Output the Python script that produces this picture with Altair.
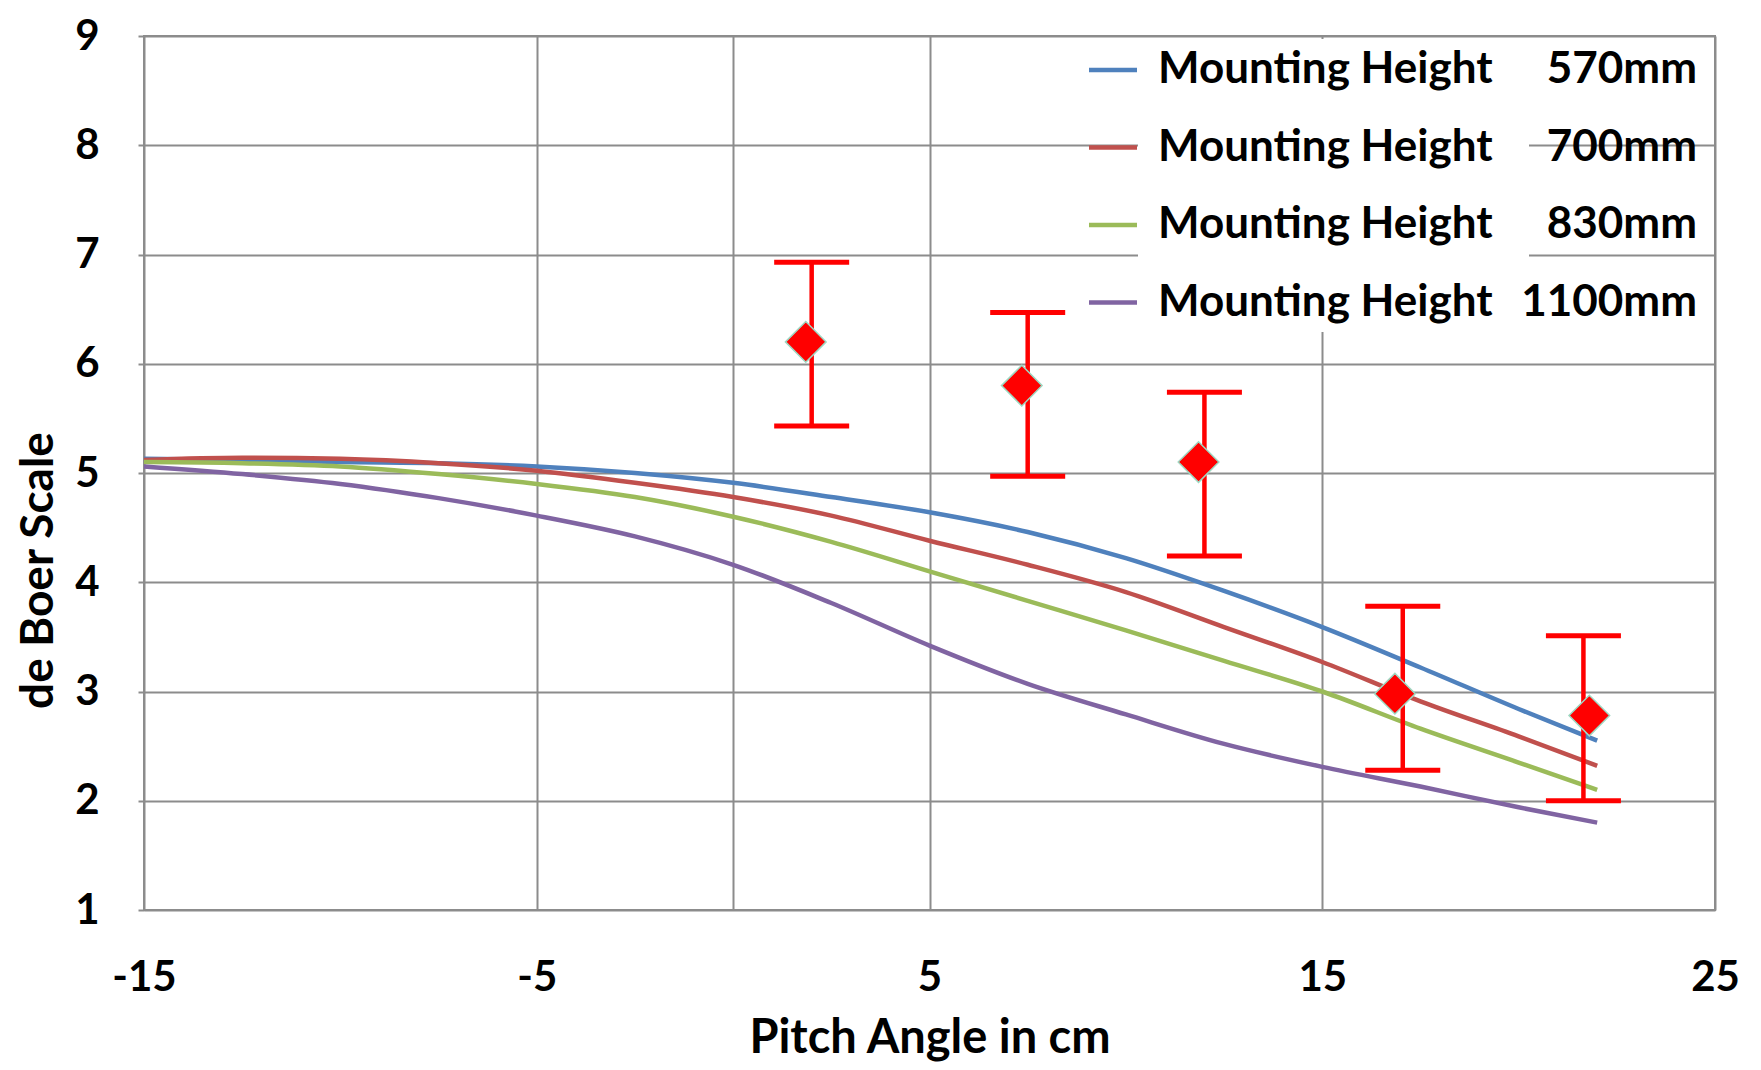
import altair as alt
import pandas as pd

# ---- data ----
x_pts = [-15, -12.5, -10, -7.5, -5, -2.5, 0, 2.5, 5, 7.5, 10, 12.5, 15, 17.5, 20, 22]
h570 = [5.13, 5.12, 5.10, 5.09, 5.06, 5.00, 4.91, 4.78, 4.64, 4.46, 4.22, 3.92, 3.59, 3.22, 2.84, 2.55]
h700 = [5.12, 5.14, 5.13, 5.09, 5.02, 4.91, 4.78, 4.61, 4.38, 4.16, 3.91, 3.59, 3.27, 2.91, 2.59, 2.32]
h830 = [5.10, 5.09, 5.06, 4.99, 4.90, 4.78, 4.60, 4.37, 4.10, 3.83, 3.56, 3.28, 3.00, 2.66, 2.35, 2.10]
h1100 = [5.06, 4.99, 4.90, 4.77, 4.61, 4.42, 4.16, 3.81, 3.42, 3.07, 2.79, 2.52, 2.31, 2.13, 1.94, 1.80]

series_names = ["570mm", "700mm", "830mm", "1100mm"]
series_values = [h570, h700, h830, h1100]
series_colors = ["#4F81BD", "#C0504D", "#9BBB59", "#8064A2"]
legend_prefix = "Mounting Height"

meas_x = [1.85, 7.35, 11.85, 16.85, 21.8]
meas_y = [6.2, 5.8, 5.1, 2.98, 2.78]
bar_x = [2.0, 7.5, 12.0, 17.05, 21.65]
bar_low = [5.43, 4.97, 4.24, 2.28, 2.0]
bar_high = [6.93, 6.47, 5.74, 3.78, 3.51]

x_ticks = [-15, -5, 0, 5, 15, 25]
y_ticks = [1, 2, 3, 4, 5, 6, 7, 8, 9]
x_title = "Pitch Angle in cm"
y_title = "de Boer Scale"

FONT = "Lato"
GRID = "#8c8c8c"
TOP = 28          # top padding (plot top at page y = 8 + TOP)
PLOT_H = 874

# ---- tables ----
rows = []
for name, vals in zip(series_names, series_values):
    for xv, yv in zip(x_pts, vals):
        rows.append({"x": xv, "y": yv, "series": name})
lines_df = pd.DataFrame(rows)
meas_df = pd.DataFrame({"x": meas_x, "y": meas_y})
bars_df = pd.DataFrame({"x": bar_x, "low": bar_low, "high": bar_high})
one = pd.DataFrame({"a": [0]})

xscale = alt.Scale(domain=[-15, 25], nice=False, zero=False)
yscale = alt.Scale(domain=[1, 9], nice=False, zero=False)

plot_top = 8 + TOP

xaxis = alt.Axis(
    values=x_ticks, title=x_title, grid=True, ticks=False, tickSize=0,
    labelExpr="datum.value == 0 ? '' : '' + datum.value",
    labelFont=FONT, labelFontSize=42, labelFontWeight="bold", labelColor="black",
    labelPadding=80, labelBaseline="alphabetic", labelFlush=False,
    titleFont=FONT, titleFontSize=47, titleFontWeight="bold", titleColor="black",
    titleY=142, titleBaseline="alphabetic",
    domain=False, gridColor=GRID, gridWidth=2,
)
yaxis = alt.Axis(
    values=y_ticks, title=y_title, grid=True, ticks=True, tickSize=6, tickColor=GRID, tickWidth=2,
    labelFont=FONT, labelFontSize=42, labelFontWeight="bold", labelColor="black",
    labelPadding=39,
    titleFont=FONT, titleFontSize=46, titleFontWeight="bold", titleColor="black",
    titleX=-106, titleY=570 - plot_top, titleAngle=-90, titleAlign="center", titleBaseline="middle",
    domain=False, gridColor=GRID, gridWidth=2,
)

color_scale = alt.Scale(domain=series_names, range=series_colors)

lines = alt.Chart(lines_df).mark_line(strokeWidth=4.5, interpolate="monotone").encode(
    x=alt.X("x:Q", scale=xscale, axis=xaxis),
    y=alt.Y("y:Q", scale=yscale, axis=yaxis),
    color=alt.Color("series:N", scale=color_scale, legend=None),
    detail="series:N",
)

legend_box = alt.Chart(one).mark_rect(color="white").encode(
    x=alt.value(994), x2=alt.value(1385), y=alt.value(3), y2=alt.value(332 - plot_top)
)

stems = alt.Chart(bars_df).mark_rule(color="#FF0000", strokeWidth=4.5).encode(
    x=alt.X("x:Q", scale=xscale, axis=xaxis),
    y=alt.Y("low:Q", scale=yscale, axis=yaxis),
    y2="high:Q",
)
caps_low = alt.Chart(bars_df).mark_tick(color="#FF0000", orient="horizontal", size=75, thickness=5, opacity=1).encode(
    x=alt.X("x:Q", scale=xscale, axis=xaxis),
    y=alt.Y("low:Q", scale=yscale, axis=yaxis),
)
caps_high = alt.Chart(bars_df).mark_tick(color="#FF0000", orient="horizontal", size=75, thickness=5, opacity=1).encode(
    x=alt.X("x:Q", scale=xscale, axis=xaxis),
    y=alt.Y("high:Q", scale=yscale, axis=yaxis),
)
diamonds = alt.Chart(meas_df).mark_point(
    shape="diamond", filled=True, fill="#FF0000", stroke="#9ed8c2", strokeWidth=1.5, size=1650, opacity=1
).encode(
    x=alt.X("x:Q", scale=xscale, axis=xaxis),
    y=alt.Y("y:Q", scale=yscale, axis=yaxis),
)

legend_layers = []
for i, (name, col) in enumerate(zip(series_names, series_colors)):
    legend_layers.append(
        alt.Chart(one).mark_rule(color=col, strokeWidth=4.5).encode(
            x=alt.value(945), x2=alt.value(993), y=alt.value(70 - plot_top + i * 77.5)
        )
    )
    legend_layers.append(
        alt.Chart(one).mark_text(
            text=legend_prefix, align="left", baseline="alphabetic",
            font=FONT, fontSize=44, fontWeight="bold", color="black"
        ).encode(x=alt.value(1014), y=alt.value(83 - plot_top + i * 77.6))
    )
    legend_layers.append(
        alt.Chart(one).mark_text(
            text=name, align="right", baseline="alphabetic",
            font=FONT, fontSize=44, fontWeight="bold", color="black"
        ).encode(x=alt.value(1553), y=alt.value(83 - plot_top + i * 77.6))
    )

chart = alt.layer(
    lines, legend_box, stems, caps_low, caps_high, diamonds, *legend_layers
).properties(
    width=1571, height=PLOT_H,
    autosize=alt.AutoSizeParams(type="none"),
    padding={"left": 136, "top": TOP, "right": 38, "bottom": 152},
    background="white",
).configure_view(stroke=GRID, strokeWidth=2)

chart.save("out.html", embed_options={"renderer": "svg", "actions": False})
